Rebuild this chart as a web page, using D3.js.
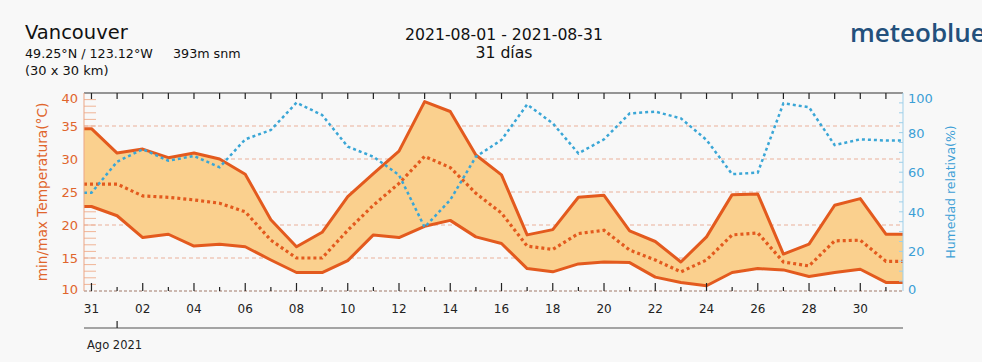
<!DOCTYPE html>
<html>
<head>
<meta charset="utf-8">
<script src="https://cdn.jsdelivr.net/npm/d3@7"></script>
<style>
	body { margin: 0; background: #f8f8f8; }
	svg { display: block; font-family: "DejaVu Sans", sans-serif; }
</style>
</head>
<body>
<svg id="chart" width="982" height="362"></svg>
<script>
// daily values, 31 Jul .. 31 Aug 2021
var days = ["2021-07-31", "2021-08-01", "2021-08-02", "2021-08-03", "2021-08-04", "2021-08-05",
	"2021-08-06", "2021-08-07", "2021-08-08", "2021-08-09", "2021-08-10", "2021-08-11",
	"2021-08-12", "2021-08-13", "2021-08-14", "2021-08-15", "2021-08-16", "2021-08-17",
	"2021-08-18", "2021-08-19", "2021-08-20", "2021-08-21", "2021-08-22", "2021-08-23",
	"2021-08-24", "2021-08-25", "2021-08-26", "2021-08-27", "2021-08-28", "2021-08-29",
	"2021-08-30", "2021-08-31"]
var tempMax = [34.6, 30.9, 31.5, 30.2, 30.9, 30.0, 27.7, 20.8, 16.7, 18.9, 24.3, 27.8,
	31.2, 38.7, 37.2, 30.6, 27.6, 18.5, 19.3, 24.2, 24.5, 19.1, 17.5, 14.4,
	18.2, 24.6, 24.7, 15.6, 17.1, 23.0, 24.0, 18.6]
var tempMean = [26.2, 26.2, 24.4, 24.2, 23.8, 23.3, 22.0, 17.7, 15.0, 15.0, 19.2, 23.0,
	26.3, 30.4, 28.7, 24.8, 21.8, 16.8, 16.3, 18.7, 19.2, 16.2, 14.7, 12.9,
	14.7, 18.5, 18.8, 14.4, 13.8, 17.6, 17.7, 14.5]
var tempMin = [22.8, 21.4, 18.1, 18.6, 16.8, 17.1, 16.7, 14.7, 12.8, 12.8, 14.6, 18.5,
	18.1, 19.8, 20.7, 18.2, 17.2, 13.4, 12.9, 14.1, 14.4, 14.3, 12.1, 11.3,
	10.8, 12.8, 13.4, 13.2, 12.2, 12.8, 13.3, 11.3]
var humidity = [49.6, 65.3, 71.6, 65.8, 68.2, 62.5, 76.6, 81.3, 95.1, 88.9, 72.9, 67.8,
	58.6, 32.2, 46.0, 67.8, 76.3, 94.2, 84.7, 69.5, 76.6, 89.7, 90.6, 87.2,
	76.3, 59.0, 59.8, 94.8, 92.8, 73.7, 76.6, 76.0]
var tempTicks = [10, 15, 20, 25, 30, 35, 40]
var humTicks = [0, 20, 40, 60, 80, 100]

var svg = d3.select("#chart")
var margin = {top: 93, right: 79, bottom: 71, left: 84}
var W = 982, H = 362
var x0 = margin.left, x1 = W - margin.right
var y0 = H - margin.bottom, y1 = margin.top

var lineColor = "#e35a1e"
var fillColor = "#fad08e"
var humColor = "#3aa6d6"
var tempLabelColor = "#e0652c"
var humLabelColor = "#3c9fd6"

var parse = d3.utcParse("%Y-%m-%d")
var dates = days.map(parse)
var start = d3.utcHour.offset(dates[0], -7)
var end = d3.utcHour.offset(dates[dates.length - 1], 16)

var x = d3.scaleUtc().domain([start, end]).range([x0, x1])
var yT = d3.scaleLinear().domain([10, 40]).range([y0, y1])
var yH = d3.scaleLinear().domain([0, 100]).range([y0, y1])

// rows, padded flat to both edges of the plot
function rows(values) {
	var r = dates.map(function(d, i) { return {d: d, v: values[i]} })
	r.unshift({d: start, v: values[0]})
	r.push({d: end, v: values[values.length - 1]})
	return r
}

var band = dates.map(function(d, i) { return {d: d, lo: tempMin[i], hi: tempMax[i]} })
band.unshift({d: start, lo: tempMin[0], hi: tempMax[0]})
band.push({d: end, lo: tempMin[tempMin.length - 1], hi: tempMax[tempMax.length - 1]})

svg.append("defs").append("clipPath").attr("id", "plotclip")
	.append("rect").attr("x", x0).attr("y", y1).attr("width", x1 - x0).attr("height", y0 - y1)

// minor temperature ticks, every degree
var g = svg.append("g")
d3.range(11, 40).forEach(function(t) {
	g.append("line").attr("x1", x0).attr("x2", x0 + 12)
		.attr("y1", yT(t)).attr("y2", yT(t))
		.attr("stroke", "#f0b496").attr("stroke-width", 1)
})

// dashed grid
tempTicks.filter(function(t) { return t > 10 && t < 40 }).forEach(function(t) {
	g.append("line").attr("x1", x0).attr("x2", x1)
		.attr("y1", yT(t)).attr("y2", yT(t))
		.attr("stroke", "#eab09a").attr("stroke-width", 1).attr("stroke-dasharray", "4,3")
})

var plot = svg.append("g").attr("clip-path", "url(#plotclip)")

plot.append("path").datum(band)
	.attr("fill", fillColor)
	.attr("d", d3.area().x(function(d) { return x(d.d) })
		.y0(function(d) { return yT(d.lo) }).y1(function(d) { return yT(d.hi) }))

var line = function(scale) {
	return d3.line().x(function(d) { return x(d.d) }).y(function(d) { return scale(d.v) })
}

plot.append("path").datum(rows(tempMax))
	.attr("fill", "none").attr("stroke", lineColor).attr("stroke-width", 3)
	.attr("stroke-linejoin", "round").attr("d", line(yT))
plot.append("path").datum(rows(tempMin))
	.attr("fill", "none").attr("stroke", lineColor).attr("stroke-width", 3)
	.attr("stroke-linejoin", "round").attr("d", line(yT))
plot.append("path").datum(rows(tempMean))
	.attr("fill", "none").attr("stroke", lineColor).attr("stroke-width", 3.2)
	.attr("stroke-dasharray", "3,3").attr("d", line(yT))
plot.append("path").datum(rows(humidity))
	.attr("fill", "none").attr("stroke", humColor).attr("stroke-width", 2.5)
	.attr("stroke-dasharray", "3,3").attr("d", line(yH))

// frame
svg.append("line").attr("x1", x0).attr("x2", x1).attr("y1", y1).attr("y2", y1)
	.attr("stroke", "#333").attr("stroke-width", 1)
svg.append("line").attr("x1", x0).attr("x2", x1).attr("y1", y0).attr("y2", y0)
	.attr("stroke", "#a07868").attr("stroke-width", 1).attr("stroke-dasharray", "3,2")
svg.append("line").attr("x1", x0).attr("x2", x0).attr("y1", y1).attr("y2", y0)
	.attr("stroke", "#eba585").attr("stroke-width", 1)
svg.append("line").attr("x1", x1).attr("x2", x1).attr("y1", y1).attr("y2", y0)
	.attr("stroke", "#9fd0ea").attr("stroke-width", 1)

// day ticks top and bottom
dates.forEach(function(d) {
	var even = d.getUTCDate() % 2 == 0 || d.getUTCMonth() == 6
	svg.append("line").attr("x1", x(d)).attr("x2", x(d)).attr("y1", y1).attr("y2", y1 + 6)
		.attr("stroke", "#222").attr("stroke-width", 1.2)
	svg.append("line").attr("x1", x(d)).attr("x2", x(d)).attr("y1", y0).attr("y2", y0 - (even ? 8 : 4))
		.attr("stroke", "#222").attr("stroke-width", 1.2)
})

// right minor ticks
d3.range(5, 100, 5).forEach(function(h) {
	svg.append("line").attr("x1", x1 - 4).attr("x2", x1).attr("y1", yH(h)).attr("y2", yH(h))
		.attr("stroke", "#9fd0ea").attr("stroke-width", 1)
})

// day labels
var dayFmt = d3.utcFormat("%d")
svg.append("g").selectAll("text")
	.data(dates.filter(function(d) { return d.getUTCDate() % 2 == 0 || d.getUTCMonth() == 6 }))
	.join("text")
	.attr("x", function(d) { return x(d) }).attr("y", 313)
	.attr("text-anchor", "middle").attr("font-size", 12).attr("fill", "#222")
	.text(dayFmt)

// month axis
svg.append("line").attr("x1", x0).attr("x2", x1).attr("y1", 328).attr("y2", 328)
	.attr("stroke", "#888").attr("stroke-width", 1.5)
svg.append("line").attr("x1", x(dates[1])).attr("x2", x(dates[1])).attr("y1", 321).attr("y2", 328)
	.attr("stroke", "#222").attr("stroke-width", 1.2)
svg.append("text").attr("x", 87).attr("y", 349).attr("font-size", 11.5).attr("fill", "#222")
	.text("Ago 2021")

// temperature labels
svg.append("g").selectAll("text").data(tempTicks).join("text")
	.attr("x", 78).attr("y", function(t) { return yT(t) + 5 + (t == 40 ? 5 : 0) - (t == 10 ? 2 : 0) })
	.attr("text-anchor", "end").attr("font-size", 13).attr("fill", tempLabelColor)
	.text(function(t) { return t })
svg.append("text").attr("transform", "translate(47," + ((y0 + y1) / 2) + ") rotate(-90)")
	.attr("text-anchor", "middle").attr("font-size", 13.7).attr("fill", tempLabelColor)
	.text("min/max Temperatura(°C)")

// humidity labels
svg.append("g").selectAll("text").data(humTicks).join("text")
	.attr("x", 908).attr("y", function(h) { return yH(h) + 5 + (h == 100 ? 5 : 0) - (h == 0 ? 2 : 0) })
	.attr("font-size", 13).attr("fill", humLabelColor)
	.text(function(h) { return h })
svg.append("text").attr("transform", "translate(955," + ((y0 + y1) / 2) + ") rotate(-90)")
	.attr("text-anchor", "middle").attr("font-size", 12.5).attr("fill", humLabelColor)
	.text("Humedad relativa(%)")

// header
svg.append("text").attr("x", 25).attr("y", 39).attr("font-size", 19.5).attr("fill", "#111")
	.text("Vancouver")
svg.append("text").attr("x", 25).attr("y", 58).attr("font-size", 12.7).attr("fill", "#111")
	.text("49.25°N / 123.12°W")
svg.append("text").attr("x", 173).attr("y", 58).attr("font-size", 12.7).attr("fill", "#111")
	.text("393m snm")
svg.append("text").attr("x", 25).attr("y", 75).attr("font-size", 13).attr("fill", "#111")
	.text("(30 x 30 km)")
svg.append("text").attr("x", 504).attr("y", 40).attr("text-anchor", "middle")
	.attr("font-size", 15.7).attr("fill", "#111").text("2021-08-01 - 2021-08-31")
svg.append("text").attr("x", 504).attr("y", 58).attr("text-anchor", "middle")
	.attr("font-size", 15.7).attr("fill", "#111").text("31 días")
svg.append("text").attr("x", 850).attr("y", 42).attr("font-size", 26)
	.attr("font-family", "'Open Sans', sans-serif").attr("font-weight", 600)
	.attr("fill", "#23507c").text("meteoblue")
</script>
</body>
</html>
